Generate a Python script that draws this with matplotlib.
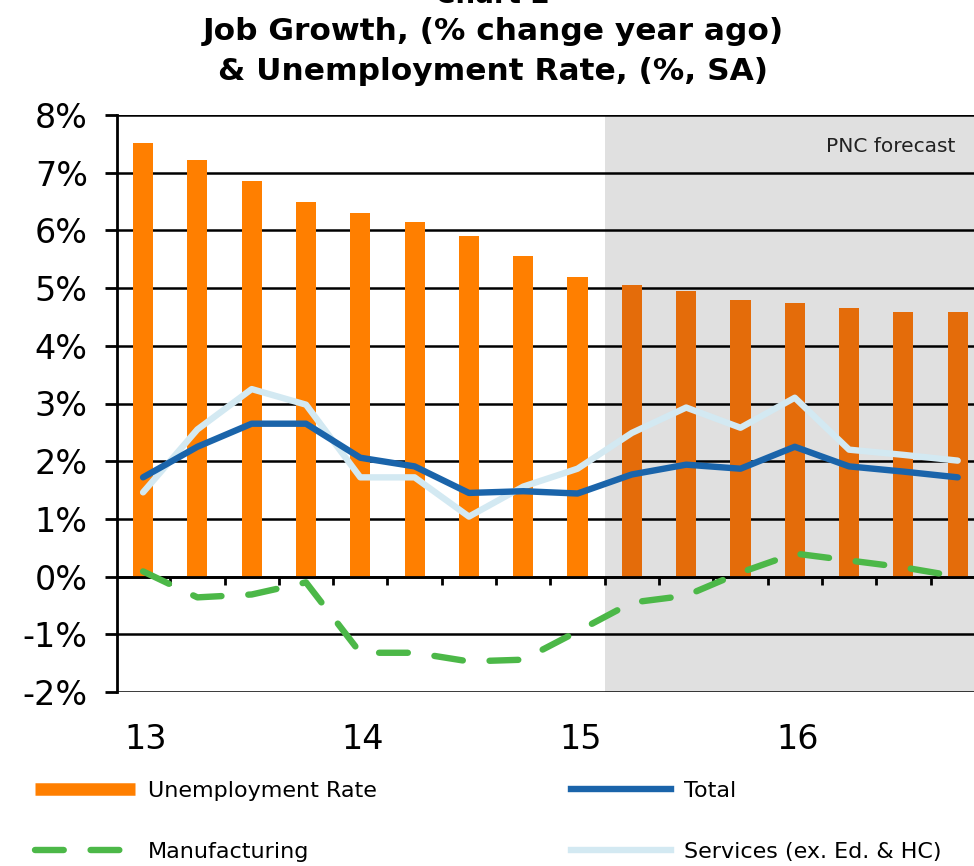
import matplotlib
matplotlib.use("Agg")
import matplotlib.pyplot as plt
import matplotlib.transforms as mtransforms
from matplotlib.lines import Line2D
import numpy as np

# ---- data ----
quarters = ["13Q1", "13Q2", "13Q3", "13Q4", "14Q1", "14Q2", "14Q3", "14Q4",
            "15Q1", "15Q2", "15Q3", "15Q4", "16Q1", "16Q2", "16Q3", "16Q4"]
year_labels = ["13", "14", "15", "16"]
unemployment = [7.52, 7.22, 6.85, 6.50, 6.30, 6.15, 5.90, 5.55,
                5.20, 5.05, 4.95, 4.80, 4.75, 4.65, 4.58, 4.58]
total = [1.72, 2.25, 2.65, 2.65, 2.06, 1.91, 1.45, 1.48,
         1.44, 1.77, 1.94, 1.87, 2.25, 1.91, 1.82, 1.72]
services = [1.46, 2.55, 3.25, 2.98, 1.72, 1.72, 1.04, 1.56,
            1.87, 2.49, 2.93, 2.58, 3.10, 2.20, 2.11, 2.01]
manufacturing = [0.09, -0.36, -0.31, -0.10, -1.32, -1.32, -1.47, -1.44,
                 -0.95, -0.45, -0.33, 0.07, 0.40, 0.28, 0.16, 0.00]
forecast_start = 8.5
y_ticks = [-2, -1, 0, 1, 2, 3, 4, 5, 6, 7, 8]

# ---- figure ----
W, H = 974, 866
fig = plt.figure(figsize=(W / 100, H / 100), dpi=100)
ax = fig.add_axes([117 / W, 174 / H, 857 / W, 577 / H])

x = np.arange(len(quarters))
ax.set_xlim(-0.48, 15.3)
ax.set_ylim(-2, 8)

# forecast shading
ax.axvspan(forecast_start, 15.3, color="#e0e0e0", zorder=0, lw=0)
ax.text(14.95, 7.45, "PNC forecast", ha="right", va="center",
        fontsize=14.5, color="#222222", zorder=5)

# gridlines
for v in y_ticks:
    ax.axhline(v, color="black", lw=1.8, zorder=0.5)

# bars
bar_colors = ["#ff7f00" if i < forecast_start else "#e46c0a" for i in x]
ax.bar(x, unemployment, width=0.37, color=bar_colors, zorder=1)

# lines
ax.plot(x, services, color="#d3e9f2", lw=4.6, solid_capstyle="round",
        solid_joinstyle="round", zorder=3)
ax.plot(x, total, color="#1a64aa", lw=4.6, solid_capstyle="round",
        solid_joinstyle="round", zorder=4)
ax.plot(x, manufacturing, color="#4cb848", lw=4.6, dashes=(4.5, 4.2),
        dash_capstyle="round", zorder=4)

# axes styling
for s in ["top", "right"]:
    ax.spines[s].set_visible(False)
ax.spines["left"].set_linewidth(2)
ax.spines["bottom"].set_position(("data", 0))
ax.spines["bottom"].set_linewidth(2)
ax.spines["bottom"].set_zorder(2)

ax.set_yticks(y_ticks)
ax.set_yticklabels([f"{v}%" for v in y_ticks], fontsize=24)
ax.tick_params(axis="y", length=9, width=2, direction="out", pad=12)

ax.set_xticks(np.arange(0.5, len(quarters) - 1, 1.0))
ax.set_xticklabels([])
ax.tick_params(axis="x", length=6, width=2, direction="out")

# year labels under the plot
trans = mtransforms.blended_transform_factory(ax.transData, ax.transAxes)
for k, lab in enumerate(year_labels):
    ax.text(4 * k + 0.05, -0.082, lab, transform=trans, ha="center",
            va="center", fontsize=24)

# titles (top line is cut off in the reference as well)
fig.text(0.506, 1 + 5 / H, "Chart 2", ha="center", va="center",
         fontsize=20, fontweight="bold")
fig.text(0.506, 1 - 32 / H, "Job Growth, (% change year ago)", ha="center",
         va="center", fontsize=22.5, fontweight="bold")
fig.text(0.506, 1 - 72 / H, "& Unemployment Rate, (%, SA)", ha="center",
         va="center", fontsize=22.5, fontweight="bold")

# legend
handles = [
    Line2D([], [], color="#ff7f00", lw=9, solid_capstyle="butt"),
    Line2D([], [], color="#4cb848", lw=4.6, dashes=(4.5, 4.2), dash_capstyle="round"),
    Line2D([], [], color="#1a64aa", lw=4.6),
    Line2D([], [], color="#d3e9f2", lw=4.6),
]
labels = ["Unemployment Rate", "Manufacturing", "Total", "Services (ex. Ed. & HC)"]
fig.legend(handles, labels, loc="upper left", bbox_to_anchor=(35 / W, 1 - 781 / H),
           ncol=2, frameon=False, fontsize=16, handlelength=4.5,
           handletextpad=0.6, columnspacing=8.7, labelspacing=1.85,
           borderpad=0, borderaxespad=0)

fig.savefig("out.png", dpi=100)
